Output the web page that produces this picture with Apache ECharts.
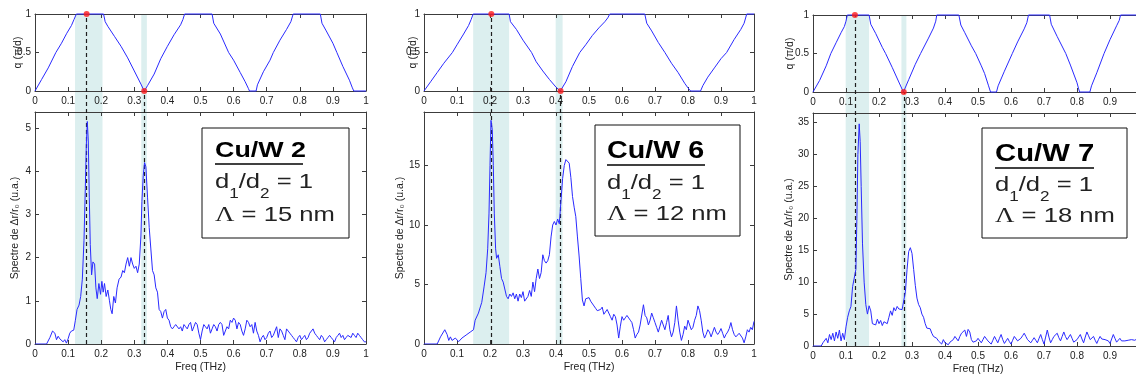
<!DOCTYPE html>
<html><head><meta charset="utf-8">
<script src="https://cdn.jsdelivr.net/npm/echarts@6/dist/echarts.min.js"></script>
<style>html,body{margin:0;padding:0;background:#fff}#c{width:1136px;height:380px}</style>
</head><body><div id="c"></div>
<script>
// ---------- DATA ----------
const sampleNames = ['Cu/W 2', 'Cu/W 6', 'Cu/W 7'];
const ratioLabel = ['d', '1', '/d', '2', ' = 1'];
const periodSymbol = 'Λ';
const periodLabels = [' = 15 nm', ' = 12 nm', ' = 18 nm'];
const xName = 'Freq (THz)';
const qName = 'q (π/d)';
const specName = 'Spectre de Δr/r₀ (u.a.)';

// dispersion q(f) in units of pi/d
const disp1 = [[0,0],[0.02,0.15],[0.04,0.3],[0.063,0.5],[0.08,0.62],[0.096,0.75],[0.11,0.85],[0.118,0.93],[0.125,1],[0.207,1],[0.212,0.9],[0.22,0.84],[0.24,0.71],[0.26,0.58],[0.28,0.43],[0.3,0.26],[0.32,0.09],[0.33,0],[0.34,0.07],[0.36,0.22],[0.38,0.42],[0.4,0.58],[0.42,0.73],[0.44,0.86],[0.447,0.93],[0.452,1],[0.535,1],[0.54,0.88],[0.56,0.74],[0.585,0.5],[0.6,0.4],[0.62,0.24],[0.635,0.12],[0.645,0.03],[0.648,0],[0.668,0],[0.672,0.08],[0.69,0.25],[0.71,0.4],[0.72,0.5],[0.74,0.66],[0.76,0.8],[0.773,0.9],[0.78,1],[0.862,1],[0.867,0.88],[0.88,0.78],[0.9,0.62],[0.912,0.5],[0.93,0.32],[0.95,0.14],[0.958,0.05],[0.963,0],[1,0]];
const disp2 = [[0,0],[0.02,0.12],[0.04,0.24],[0.06,0.36],[0.086,0.5],[0.1,0.6],[0.12,0.74],[0.135,0.85],[0.143,0.93],[0.149,1],[0.258,1],[0.262,0.9],[0.28,0.8],[0.3,0.66],[0.326,0.5],[0.34,0.38],[0.36,0.26],[0.38,0.15],[0.4,0.05],[0.413,0],[0.43,0.12],[0.45,0.32],[0.472,0.5],[0.49,0.6],[0.51,0.72],[0.53,0.82],[0.548,0.9],[0.557,0.95],[0.563,1],[0.669,1],[0.675,0.88],[0.69,0.78],[0.71,0.63],[0.73,0.5],[0.75,0.36],[0.77,0.24],[0.79,0.1],[0.8,0.04],[0.808,0],[0.838,0],[0.845,0.07],[0.86,0.18],[0.88,0.3],[0.9,0.42],[0.917,0.5],[0.94,0.67],[0.96,0.8],[0.97,0.88],[0.978,1],[1,1]];
const disp3 = [[0,0],[0.02,0.15],[0.04,0.34],[0.054,0.5],[0.07,0.64],[0.085,0.77],[0.095,0.85],[0.1,0.92],[0.104,1],[0.17,1],[0.175,0.88],[0.19,0.76],[0.21,0.58],[0.22,0.5],[0.24,0.32],[0.26,0.13],[0.274,0],[0.29,0.16],[0.31,0.36],[0.326,0.5],[0.35,0.7],[0.365,0.83],[0.372,0.92],[0.375,1],[0.442,1],[0.448,0.87],[0.46,0.77],[0.48,0.6],[0.493,0.5],[0.51,0.34],[0.52,0.24],[0.532,0.08],[0.538,0],[0.556,0],[0.561,0.08],[0.58,0.27],[0.604,0.5],[0.62,0.65],[0.64,0.82],[0.648,0.9],[0.653,1],[0.717,1],[0.722,0.88],[0.74,0.72],[0.766,0.5],[0.78,0.35],[0.8,0.12],[0.805,0.04],[0.808,0],[0.839,0],[0.844,0.08],[0.86,0.25],[0.882,0.5],[0.9,0.68],[0.92,0.86],[0.928,0.93],[0.932,1],[1,1]];

// spectra (u.a.)
const spec1 = [[0,0],[0.035,0],[0.045,0.15],[0.053,0.3],[0.06,0.25],[0.065,0.1],[0.07,0.18],[0.075,0.12],[0.08,0.15],[0.085,0.05],[0.09,0.1],[0.095,0.02],[0.1,0.12],[0.105,0.25],[0.11,0.3],[0.117,0.32],[0.122,0.55],[0.127,0.8],[0.133,0.9],[0.138,1.1],[0.143,1.5],[0.148,2.4],[0.152,3.6],[0.155,4.6],[0.158,5.15],[0.161,4.7],[0.164,3.4],[0.167,2.3],[0.171,1.6],[0.175,1.9],[0.18,1.85],[0.184,1.3],[0.188,1.05],[0.193,1.4],[0.198,1.15],[0.202,1.45],[0.206,1.2],[0.21,1.4],[0.215,1.1],[0.22,1.25],[0.225,1.0],[0.229,0.8],[0.233,0.7],[0.238,1.1],[0.243,0.95],[0.248,1.3],[0.254,1.5],[0.26,1.55],[0.265,1.7],[0.27,1.65],[0.275,1.85],[0.28,2.0],[0.285,1.8],[0.29,2.0],[0.295,1.85],[0.3,1.75],[0.305,1.8],[0.31,1.65],[0.315,1.85],[0.32,2.5],[0.323,3.3],[0.327,3.9],[0.331,4.2],[0.335,4.1],[0.34,3.4],[0.345,2.7],[0.35,2.2],[0.355,1.7],[0.36,1.6],[0.365,1.3],[0.37,1.2],[0.375,0.8],[0.38,0.75],[0.385,0.6],[0.39,0.75],[0.395,0.8],[0.4,0.6],[0.405,0.55],[0.41,0.4],[0.415,0.35],[0.42,0.4],[0.425,0.45],[0.43,0.42],[0.435,0.35],[0.44,0.4],[0.445,0.3],[0.45,0.45],[0.455,0.4],[0.46,0.35],[0.465,0.45],[0.47,0.5],[0.475,0.3],[0.48,0.4],[0.485,0.5],[0.49,0.45],[0.495,0.25],[0.5,0.1],[0.505,0.3],[0.51,0.45],[0.515,0.4],[0.52,0.35],[0.525,0.45],[0.53,0.25],[0.535,0.35],[0.54,0.45],[0.545,0.4],[0.55,0.3],[0.555,0.45],[0.56,0.5],[0.565,0.45],[0.57,0.2],[0.575,0.3],[0.58,0.4],[0.585,0.35],[0.59,0.55],[0.595,0.5],[0.6,0.6],[0.605,0.55],[0.61,0.35],[0.615,0.5],[0.62,0.45],[0.625,0.3],[0.63,0.2],[0.635,0.35],[0.64,0.55],[0.645,0.5],[0.65,0.4],[0.655,0.45],[0.66,0.25],[0.665,0.5],[0.67,0.3],[0.675,0.2],[0.68,0.05],[0.685,0.15],[0.69,0.2],[0.695,0.1],[0.7,0.15],[0.705,0.25],[0.71,0.3],[0.715,0.15],[0.72,0.2],[0.725,0.3],[0.73,0.4],[0.735,0.15],[0.74,0.35],[0.745,0.3],[0.75,0.2],[0.755,0.1],[0.76,0.35],[0.765,0.3],[0.77,0.25],[0.775,0.2],[0.78,0.15],[0.785,0.1],[0.79,0.05],[0.795,0.15],[0.8,0.2],[0.805,0.1],[0.81,0.15],[0.815,0.2],[0.82,0.1],[0.825,0.15],[0.83,0.25],[0.835,0.3],[0.84,0.35],[0.845,0.25],[0.85,0.2],[0.855,0.15],[0.86,0.1],[0.865,0.2],[0.87,0.15],[0.875,0.05],[0.88,0.1],[0.885,0.15],[0.89,0.2],[0.895,0.15],[0.9,0.1],[0.905,0.05],[0.91,0.15],[0.915,0.2],[0.92,0.25],[0.925,0.15],[0.93,0.2],[0.935,0.1],[0.94,0.15],[0.945,0.2],[0.95,0.2],[0.955,0.15],[0.96,0.25],[0.965,0.2],[0.97,0.15],[0.975,0.25],[0.98,0.2],[0.985,0.15],[0.99,0.1],[0.995,0.05],[1,0.05]];
const spec2 = [[0,0],[0.04,0],[0.05,0.6],[0.063,1.2],[0.07,0.8],[0.075,0.3],[0.08,0.6],[0.085,0.3],[0.09,0.2],[0.095,0.5],[0.1,0.5],[0.105,0.2],[0.11,0.3],[0.115,0.5],[0.12,0.6],[0.13,0.8],[0.14,1.0],[0.15,1.2],[0.155,2.0],[0.165,2.6],[0.175,3.5],[0.182,4.8],[0.188,6],[0.193,8],[0.197,11],[0.2,15],[0.203,18.8],[0.207,18],[0.21,15],[0.213,11],[0.217,8],[0.22,7.2],[0.225,7.5],[0.23,6.5],[0.235,5.5],[0.24,5.2],[0.25,4.0],[0.255,3.8],[0.26,4.2],[0.265,4.0],[0.27,4.3],[0.275,3.8],[0.28,4.2],[0.285,3.6],[0.29,4.2],[0.295,3.9],[0.3,4.4],[0.305,3.6],[0.31,3.5],[0.315,4.0],[0.32,4.5],[0.325,4.0],[0.33,5.2],[0.335,4.4],[0.34,5.5],[0.345,6.3],[0.35,5.5],[0.355,6.0],[0.36,7.5],[0.365,7.0],[0.37,6.8],[0.375,7.0],[0.38,7.5],[0.385,9.0],[0.39,10.0],[0.395,10.3],[0.4,10.0],[0.405,10.5],[0.41,10.1],[0.415,12.0],[0.42,13.9],[0.425,15.0],[0.43,15.5],[0.435,15.5],[0.44,15.2],[0.445,14],[0.45,12.4],[0.455,11.5],[0.46,10.7],[0.465,9],[0.47,7.4],[0.475,5.5],[0.48,3.7],[0.485,3.2],[0.49,3.8],[0.495,3.7],[0.5,3.9],[0.505,3.6],[0.51,3.5],[0.515,3.2],[0.52,3.0],[0.525,2.8],[0.53,2.7],[0.535,2.9],[0.54,3.1],[0.545,2.5],[0.55,2.4],[0.555,2.9],[0.56,2.8],[0.565,2.3],[0.57,2.0],[0.575,2.5],[0.58,2.3],[0.585,1.6],[0.59,0.5],[0.595,1.5],[0.6,2.3],[0.605,2.0],[0.61,2.2],[0.615,2.4],[0.62,2.3],[0.625,2.0],[0.63,1.8],[0.635,1.2],[0.64,0.5],[0.645,0.8],[0.65,1.0],[0.655,1.6],[0.66,1.5],[0.665,3.3],[0.67,2.4],[0.675,2.2],[0.68,1.6],[0.685,2.0],[0.69,2.6],[0.695,2.2],[0.7,1.8],[0.705,1.4],[0.71,1.0],[0.715,1.5],[0.72,2.0],[0.725,1.6],[0.73,1.2],[0.735,1.8],[0.74,2.4],[0.745,1.2],[0.75,0.6],[0.755,1.0],[0.76,1.8],[0.765,3.2],[0.77,2.0],[0.775,1.0],[0.78,0.3],[0.785,0.8],[0.79,1.5],[0.795,1.2],[0.8,2.0],[0.805,1.6],[0.81,1.2],[0.815,1.4],[0.82,2.0],[0.825,2.4],[0.83,3.2],[0.835,2.8],[0.84,2.0],[0.845,1.0],[0.85,0.5],[0.855,0.8],[0.86,1.2],[0.865,1.0],[0.87,0.6],[0.875,1.0],[0.88,1.4],[0.885,1.0],[0.89,0.8],[0.895,1.0],[0.9,1.3],[0.905,0.9],[0.91,0.5],[0.915,0.8],[0.92,1.0],[0.925,1.3],[0.93,1.8],[0.935,1.2],[0.94,0.8],[0.945,0.6],[0.95,0.6],[0.955,0.9],[0.96,1.0],[0.965,0.5],[0.97,0.1],[0.975,0.6],[0.98,1.2],[0.985,1.0],[0.99,1.4],[0.995,1.2],[1,1.9]];
const spec3 = [[0,0],[0.025,0],[0.03,0.5],[0.04,1.2],[0.045,0.5],[0.05,1.8],[0.055,1.0],[0.06,2.0],[0.065,0.8],[0.07,2.2],[0.075,1.2],[0.08,2.5],[0.085,0.8],[0.09,2.0],[0.095,1.0],[0.1,3.0],[0.105,4.5],[0.11,5.5],[0.115,6.2],[0.12,9.3],[0.125,9.0],[0.13,12],[0.133,20],[0.136,30],[0.14,34.8],[0.143,32],[0.146,25],[0.15,16],[0.155,10],[0.16,6.5],[0.165,5.0],[0.17,6.3],[0.175,5.5],[0.18,3.5],[0.185,3.8],[0.19,3.3],[0.195,4.2],[0.2,3.5],[0.205,4.0],[0.21,3.2],[0.215,3.8],[0.22,4.0],[0.225,3.5],[0.23,4.5],[0.235,5.5],[0.24,4.8],[0.245,6.0],[0.25,5.5],[0.255,6.2],[0.26,5.8],[0.265,5.5],[0.27,5.7],[0.275,6.0],[0.28,8.5],[0.285,12],[0.29,14.8],[0.295,15.4],[0.3,14.5],[0.305,12],[0.31,9.5],[0.315,7.5],[0.32,6.5],[0.325,6.0],[0.33,5.0],[0.335,4.5],[0.34,3.5],[0.345,2.8],[0.35,2.5],[0.355,2.7],[0.36,2.0],[0.365,1.5],[0.37,1.7],[0.375,1.2],[0.38,0.8],[0.385,1.0],[0.39,0.3],[0.395,1.0],[0.4,0.5],[0.405,0.8],[0.41,0.2],[0.415,0.6],[0.42,0.5],[0.425,1.0],[0.43,1.5],[0.435,1.2],[0.44,0.8],[0.445,1.5],[0.45,2.0],[0.455,1.8],[0.46,2.5],[0.465,1.5],[0.47,2.6],[0.475,2.2],[0.48,1.0],[0.485,0.6],[0.49,0.3],[0.495,0.8],[0.5,1.2],[0.505,0.9],[0.51,0.5],[0.515,1.0],[0.52,1.5],[0.525,1.2],[0.53,0.8],[0.535,0.5],[0.54,0.3],[0.545,0.9],[0.55,1.5],[0.555,1.0],[0.56,0.5],[0.565,1.2],[0.57,1.8],[0.575,1.0],[0.58,0.4],[0.585,0.8],[0.59,1.2],[0.595,0.7],[0.6,0.3],[0.605,0.9],[0.61,1.5],[0.615,1.2],[0.62,0.8],[0.625,1.0],[0.63,1.2],[0.635,1.6],[0.64,2.0],[0.645,1.5],[0.65,1.0],[0.655,0.8],[0.66,0.5],[0.665,0.9],[0.67,1.3],[0.675,0.9],[0.68,0.5],[0.685,1.2],[0.69,1.8],[0.695,1.0],[0.7,0.3],[0.705,1.4],[0.71,2.5],[0.715,1.4],[0.72,0.5],[0.725,1.0],[0.73,1.5],[0.735,1.8],[0.74,2.0],[0.745,1.3],[0.75,0.8],[0.755,1.5],[0.76,2.2],[0.765,1.5],[0.77,1.0],[0.775,1.4],[0.78,1.8],[0.785,1.2],[0.79,0.6],[0.795,0.8],[0.8,1.0],[0.805,1.4],[0.81,1.8],[0.815,1.1],[0.82,0.5],[0.825,1.4],[0.83,2.2],[0.835,1.6],[0.84,1.0],[0.845,1.2],[0.85,1.5],[0.855,0.9],[0.86,0.4],[0.865,1.0],[0.87,1.5],[0.875,1.1],[0.88,0.8],[0.885,1.0],[0.89,1.3],[0.895,0.8],[0.9,0.4],[0.905,1.1],[0.91,1.8],[0.915,1.2],[0.92,0.6],[0.925,0.9],[0.93,1.2],[0.935,0.8],[0.94,0.5],[0.945,0.8],[0.95,1.0],[0.955,0.9],[0.96,0.8],[0.965,1.0],[0.97,1.3],[0.975,0.9],[0.98,0.6],[0.985,1.2],[0.99,1.8],[0.995,1.6],[1,1.5]];

// shaded frequency bands and marked modes (THz)
const bands1 = [[0.121, 0.204], [0.321, 0.338]];
const bands2 = [[0.149, 0.258], [0.399, 0.420]];
const bands3 = [[0.099, 0.170], [0.268, 0.283]];
const modes1 = [0.156, 0.330];
const modes2 = [0.204, 0.414];
const modes3 = [0.127, 0.275];

// spectrum axis ranges
const specMax = [5.37, 19.5, 36.5];
const specStep = [1, 5, 5];

// ---------- LAYOUT / STYLE ----------
const FONT = "'Liberation Sans', Arial, 'DejaVu Sans', sans-serif";
const SERIF = "'Liberation Serif', 'Times New Roman', serif";
const AX = '#3c3c3c', TXT = '#222', BLUE = '#2a2aff';
const layout = [
  {L:35,  W:331, tT:14, tB:91, bT:112, bB:344, qGap:11, sGap:14,
   box:[202,128,349,238], tx:215, tBase:159, ul:[215,303,164], l2:192, l3:225, tfs:22},
  {L:424, W:330, tT:14, tB:91, bT:112, bB:344, qGap:5, sGap:18,
   box:[595,125,740,236], tx:607, tBase:160, ul:[607,705,165], l2:193, l3:224, tfs:23.5},
  {L:813, W:330, tT:15, tB:92, bT:113, bB:346, qGap:17, sGap:18,
   box:[982,128,1127,238], tx:995, tBase:163, ul:[995,1094,168], l2:195, l3:226, tfs:24}
];
const disps = [disp1, disp2, disp3];
const specs = [spec1, spec2, spec3];
const bands = [bands1, bands2, bands3];
const modes = [modes1, modes2, modes3];

const grid = [], xAxis = [], yAxis = [], series = [], graphic = [];
const labelStyle = (show, extra) => Object.assign({show, color: TXT, fontSize: 10, fontFamily: FONT}, extra || {});
function xAx(gi, pos, show, extra) {
  return Object.assign({type:'value', gridIndex:gi, position:pos, min:0, max:1, interval:0.1, z:3,
    axisLine:{show:true, onZero:false, lineStyle:{color:AX, width:1}},
    axisTick:{show:true, inside:true, length:4, lineStyle:{color:AX}},
    axisLabel:labelStyle(show, {margin:5}), splitLine:{show:false}}, extra || {});
}
function yAx(gi, pos, show, max, step, extra, lblExtra) {
  return Object.assign({type:'value', gridIndex:gi, position:pos, min:0, max, interval:step, z:3,
    axisLine:{show:true, onZero:false, lineStyle:{color:AX, width:1}},
    axisTick:{show:true, inside:true, length:4, lineStyle:{color:AX}},
    axisLabel:labelStyle(show, Object.assign({margin:4}, lblExtra || {})), splitLine:{show:false}}, extra || {});
}
const nameStyle = {color: TXT, fontSize: 10.5, fontFamily: FONT};

layout.forEach((p, i) => {
  const g0 = grid.length;
  const gb = {outerBoundsMode:'none', containLabel:false};
  grid.push(Object.assign({left:p.L, top:p.tT, width:p.W, height:p.bB - p.tT}, gb));
  grid.push(Object.assign({left:p.L, top:p.tT, width:p.W, height:p.tB - p.tT}, gb));
  grid.push(Object.assign({left:p.L, top:p.bT, width:p.W, height:p.bB - p.bT}, gb));

  const xb = xAxis.length; xAxis.push({type:'value', gridIndex:g0, min:0, max:1, show:false});
  const yb = yAxis.length; yAxis.push({type:'value', gridIndex:g0, min:0, max:1, show:false});

  const xt = xAxis.length; xAxis.push(xAx(g0+1, 'bottom', true)); xAxis.push(xAx(g0+1, 'top', false));
  const yt = yAxis.length;
  yAxis.push(yAx(g0+1, 'left', true, 1, 0.5, {name:qName, nameLocation:'middle', nameGap:p.qGap, nameMoveOverlap:false, nameTextStyle:nameStyle}));
  yAxis.push(yAx(g0+1, 'right', false, 1, 0.5));

  const xs = xAxis.length;
  xAxis.push(xAx(g0+2, 'bottom', true, {name:xName, nameLocation:'middle', nameGap:18, nameMoveOverlap:false, nameTextStyle:nameStyle}));
  xAxis.push(xAx(g0+2, 'top', false));
  const ys = yAxis.length;
  yAxis.push(yAx(g0+2, 'left', true, specMax[i], specStep[i], {name:specName, nameLocation:'middle', nameGap:p.sGap, nameMoveOverlap:false, nameTextStyle:nameStyle}, {showMaxLabel:false}));
  yAxis.push(yAx(g0+2, 'right', false, specMax[i], specStep[i]));

  // fraction of the background grid where the top plot's bottom edge lies
  const frac = (p.bB - p.tB) / (p.bB - p.tT);
  const m = modes[i];
  series.push({type:'line', xAxisIndex:xb, yAxisIndex:yb, data:[[0,0],[1,0]], symbol:'none',
    lineStyle:{opacity:0}, silent:true, z:1, animation:false,
    markArea:{silent:true, itemStyle:{color:'#dcefef'}, data: bands[i].map(b => [{xAxis:b[0]}, {xAxis:b[1]}])},
    markLine:{silent:true, symbol:['none','none'], label:{show:false}, animation:false,
      lineStyle:{type:[4,3], color:'#1e1e1e', width:1.2},
      data:[[{coord:[m[0],0]},{coord:[m[0],1]}], [{coord:[m[1],0]},{coord:[m[1],frac]}]]}
  });
  series.push({type:'line', xAxisIndex:xt, yAxisIndex:yt, data:disps[i], symbol:'none', clip:false,
    lineStyle:{color:BLUE, width:1}, z:5});
  series.push({type:'scatter', xAxisIndex:xt, yAxisIndex:yt, data:[[m[0],1],[m[1],0]], symbolSize:6, clip:false,
    itemStyle:{color:'#ff1a1a'}, z:6});
  series.push({type:'line', xAxisIndex:xs, yAxisIndex:ys, data:specs[i], symbol:'none',
    lineStyle:{color:BLUE, width:1}, z:5});

  // annotation box
  const b = p.box;
  graphic.push({type:'rect', shape:{x:b[0], y:b[1], width:b[2]-b[0], height:b[3]-b[1]},
    style:{fill:'#fff', stroke:'#111', lineWidth:1}, z:20});
  const sx = 1.22;
  graphic.push({type:'text', x:p.tx, y:p.tBase - 0.35 * p.tfs, scaleX:sx, z:21,
    style:{text:sampleNames[i], fontSize:p.tfs, fontWeight:'bold', fontFamily:FONT, fill:'#000', verticalAlign:'middle'}});
  graphic.push({type:'line', shape:{x1:p.ul[0], y1:p.ul[2], x2:p.ul[1], y2:p.ul[2]},
    style:{stroke:'#000', lineWidth:1.6}, z:21});
  graphic.push({type:'text', x:p.tx, y:p.l2 - 20.35, scaleX:sx, z:21,
    style:{text:'{a|' + ratioLabel[0] + '}{s|' + ratioLabel[1] + '}{a|' + ratioLabel[2] + '}{s|' + ratioLabel[3] + '}{a|' + ratioLabel[4] + '}',
      verticalAlign:'top', fill:'#222',
      rich:{a:{fontSize:21, lineHeight:26, fontFamily:FONT, fill:'#222', verticalAlign:'top'},
            s:{fontSize:14, lineHeight:14, fontFamily:FONT, fill:'#222', verticalAlign:'top', padding:[15,0,0,0]}}}});
  graphic.push({type:'text', x:p.tx, y:p.l3 - 20.35, scaleX:sx, z:21,
    style:{text:'{g|' + periodSymbol + '}{a|' + periodLabels[i] + '}', verticalAlign:'top', fill:'#222',
      rich:{g:{fontSize:22, lineHeight:26, fontFamily:SERIF, fill:'#222', verticalAlign:'top'},
            a:{fontSize:21, lineHeight:26, fontFamily:FONT, fill:'#222', verticalAlign:'top'}}}});
});

const chart = echarts.init(document.getElementById('c'), null, {renderer:'canvas'});
chart.setOption({animation:false, backgroundColor:'#fff', grid, xAxis, yAxis, series, graphic});
</script></body></html>
